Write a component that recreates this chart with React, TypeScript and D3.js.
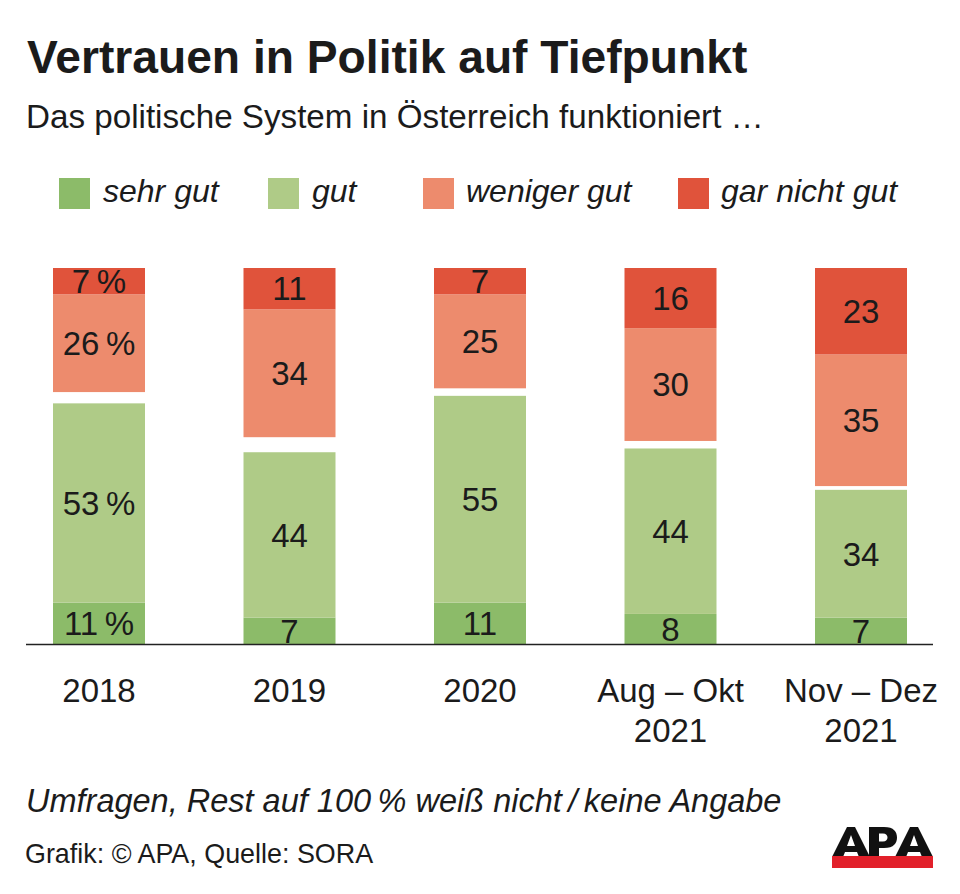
import React, { useEffect } from "react";
import * as d3 from "d3";

const categories = ["2018", "2019", "2020", "Aug–Okt 2021", "Nov–Dez 2021"];
const categoryLines = [["2018"], ["2019"], ["2020"], ["Aug – Okt", "2021"], ["Nov – Dez", "2021"]];
const sehrGut = [11, 7, 11, 8, 7];
const gut = [53, 44, 55, 44, 34];
const wenigerGut = [26, 34, 25, 30, 35];
const garNichtGut = [7, 11, 7, 16, 23];
const seriesNames = ["sehr gut", "gut", "weniger gut", "gar nicht gut"];
const seriesColors = ["#8cbb69", "#afcb87", "#ed8b6d", "#e0533b"];
const percentColumn = 0; // first column labels carry a % sign

const W = 960;
const H = 894;
const FONT = "'Liberation Sans', Arial, Helvetica, sans-serif";
const TEXT = "#1b1b1b";

export default function App() {
  useEffect(() => {
    document.body.style.margin = "0";
  }, []);

  const x = d3.scalePoint<string>().domain(categories).range([99, 861]);
  const y = d3.scaleLinear().domain([0, 100]).range([644, 268]);
  const barW = 92;

  // greens stacked from the bottom, reds stacked down from 100
  const segments: { cat: string; i: number; s: number; y0: number; y1: number; v: number }[] = [];
  categories.forEach((cat, i) => {
    const sg = sehrGut[i];
    const g = gut[i];
    const wg = wenigerGut[i];
    const gn = garNichtGut[i];
    segments.push({ cat, i, s: 0, y0: 0, y1: sg, v: sg });
    segments.push({ cat, i, s: 1, y0: sg, y1: sg + g, v: g });
    segments.push({ cat, i, s: 2, y0: 100 - gn - wg, y1: 100 - gn, v: wg });
    segments.push({ cat, i, s: 3, y0: 100 - gn, y1: 100, v: gn });
  });

  const labelFs = 33;

  const legendSquares = [59, 268, 423, 678];
  const legendTexts = [103, 312, 466, 721];

  // APA logo shapes
  const aPath = (ox: number, oy: number) =>
    `M${ox},${oy + 30} L${ox + 15},${oy} L${ox + 23},${oy} L${ox + 38},${oy + 30} L${ox + 27},${oy + 30} L${ox + 25},${oy + 25} L${ox + 13},${oy + 25} L${ox + 11},${oy + 30} Z ` +
    `M${ox + 15},${oy + 19} L${ox + 19},${oy + 8} L${ox + 23},${oy + 19} Z`;
  const pPath = (ox: number, oy: number) =>
    `M${ox},${oy} H${ox + 15} C${ox + 25},${oy} ${ox + 28},${oy + 5} ${ox + 28},${oy + 10.5} C${ox + 28},${oy + 16} ${ox + 25},${oy + 21} ${ox + 15},${oy + 21} H${ox + 10} V${oy + 30} H${ox} Z ` +
    `M${ox + 10},${oy + 6.5} H${ox + 14} C${ox + 17},${oy + 6.5} ${ox + 18.5},${oy + 8.5} ${ox + 18.5},${oy + 10.5} C${ox + 18.5},${oy + 12.5} ${ox + 17},${oy + 14.5} ${ox + 14},${oy + 14.5} H${ox + 10} Z`;

  return (
    <svg
      width={W}
      height={H}
      viewBox={`0 0 ${W} ${H}`}
      style={{ position: "absolute", left: 0, top: 0, background: "#fff" }}
      fontFamily={FONT}
    >
      <rect width={W} height={H} fill="#fff" />
      <text x={27} y={73} fontSize={46.2} fontWeight="bold" fill={TEXT}>
        Vertrauen in Politik auf Tiefpunkt
      </text>
      <text x={26} y={128} fontSize={33.2} fill={TEXT}>
        Das politische System in Österreich funktioniert …
      </text>

      {seriesNames.map((n, k) => (
        <g key={n}>
          <rect x={legendSquares[k]} y={178} width={31} height={31} fill={seriesColors[k]} />
          <text x={legendTexts[k]} y={202} fontSize={32} fontStyle="italic" fill={TEXT}>
            {n}
          </text>
        </g>
      ))}

      {segments.map((d) => (
        <rect
          key={`${d.cat}-${d.s}`}
          x={(x(d.cat) as number) - barW / 2}
          y={y(d.y1)}
          width={barW}
          height={y(d.y0) - y(d.y1)}
          fill={seriesColors[d.s]}
        />
      ))}

      {segments.map((d) => (
        <text
          key={`l-${d.cat}-${d.s}`}
          x={x(d.cat) as number}
          y={(y(d.y0) + y(d.y1)) / 2 + labelFs * 0.358}
          fontSize={labelFs}
          textAnchor="middle"
          fill={TEXT}
        >
          {d.i === percentColumn ? `${d.v}\u2009%` : `${d.v}`}
        </text>
      ))}

      <line x1={26} x2={933} y1={y(0) + 0.5} y2={y(0) + 0.5} stroke="#222" strokeWidth={1.5} />

      {categories.map((c, i) =>
        categoryLines[i].map((line, j) => (
          <text
            key={`${c}-${j}`}
            x={x(c) as number}
            y={702 + j * 40}
            fontSize={labelFs}
            textAnchor="middle"
            fill={TEXT}
          >
            {line}
          </text>
        ))
      )}

      <text x={26} y={812} fontSize={32.5} fontStyle="italic" fill={TEXT}>
        Umfragen, Rest auf 100{"\u2009"}% weiß nicht{"\u2009"}/{"\u2009"}keine Angabe
      </text>
      <text x={25} y={863} fontSize={26.9} fill={TEXT}>
        Grafik: © APA, Quelle: SORA
      </text>

      <g>
        <path d={aPath(832, 827)} fill="#111" fillRule="evenodd" />
        <path d={pPath(869, 827)} fill="#111" fillRule="evenodd" />
        <path d={aPath(895, 827)} fill="#111" fillRule="evenodd" />
        <rect x={832} y={856} width={101} height={12} fill="#e2202a" />
      </g>
    </svg>
  );
}
